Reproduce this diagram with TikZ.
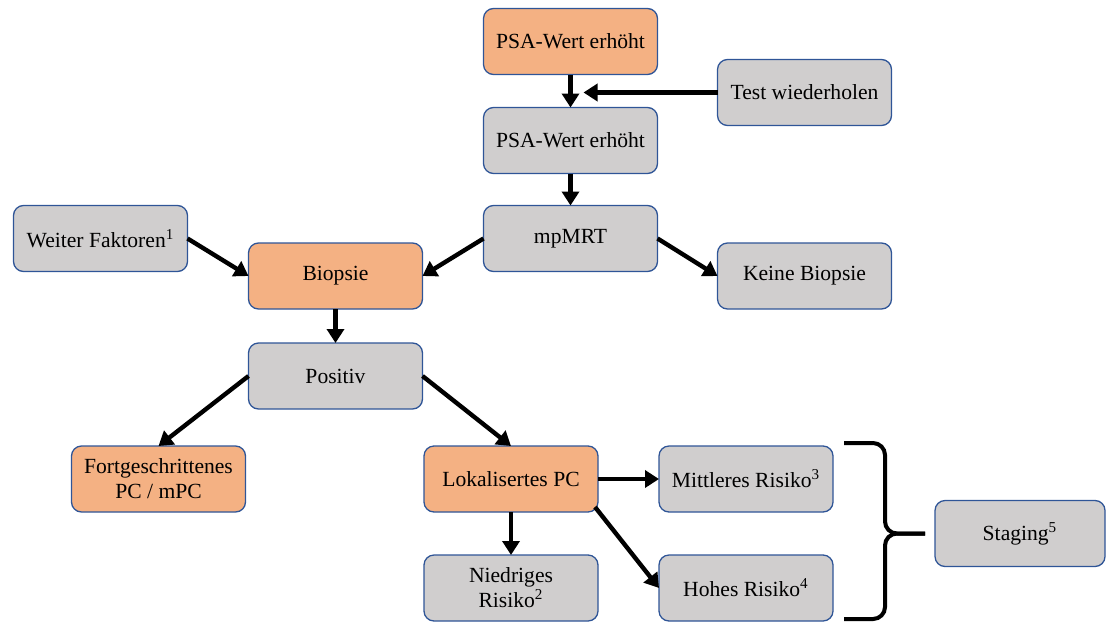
\documentclass[tikz,border=0pt]{standalone}
\usepackage{fontspec}
\setmainfont{Liberation Serif}
\usepackage{xcolor}
\usetikzlibrary{positioning,arrows.meta,calc}

\definecolor{boxgray}{HTML}{D0CECE}
\definecolor{boxorange}{HTML}{F4B183}
\definecolor{boxline}{RGB}{47,85,151}

\begin{document}
\begin{tikzpicture}[
  every node/.style = {font=\fontsize{10.8}{12.5}\selectfont},
  box/.style   = {draw=boxline, rounded corners=5pt, align=center,
                  inner sep=2pt, outer sep=0pt, minimum width=87pt,
                  minimum height=33pt, line width=0.65pt},
  gbox/.style  = {box, fill=boxgray},
  obox/.style  = {box, fill=boxorange},
  ar/.style    = {-{Triangle[length=7pt,width=8.5pt]}, line width=2.2pt, black},
  brace/.style = {line width=2pt, rounded corners=6pt, line cap=butt}
]

\useasboundingbox (0,0) rectangle (553pt,-310.5pt);

\node[obox] (psa) at (285.25pt,-20.75pt) {PSA-Wert erhöht};
\node[gbox, below=16.5pt of psa]                    (psab)    {PSA-Wert erhöht};
\node[gbox, right=30pt of psab, yshift=24pt]        (test)    {Test wiederholen};
\node[gbox, below=16pt of psab]                     (mrt)     {mpMRT};
\node[obox, left=30.5pt of mrt, yshift=-18.75pt]    (biopsie) {Biopsie};
\node[gbox, right=30pt of mrt, yshift=-18.75pt]     (keine)   {Keine Biopsie};
\node[gbox, left=30.5pt of biopsie, yshift=18.75pt] (weiter)  {Weiter Faktoren\textsuperscript{1}};
\node[gbox, below=17pt of biopsie]                  (positiv) {Positiv};

\node[obox, below=18.5pt of positiv, xshift=-88.5pt] (fort)  {Fortgeschrittenes\\PC / mPC};
\node[obox, below=18.5pt of positiv, xshift=87.75pt] (lokal) {Lokalisertes PC};
\node[gbox, right=30.5pt of lokal]  (mittel)  {Mittleres Risiko\textsuperscript{3}};
\node[gbox, below=21.5pt of lokal]  (niedrig) {Niedriges\\Risiko\textsuperscript{2}};
\node[gbox, below=21.5pt of mittel] (hohes)   {Hohes Risiko\textsuperscript{4}};
\node[gbox, minimum width=85pt, minimum height=33pt,
      right=51pt of $(mittel.east)!0.5!(hohes.east)$] (staging) {Staging\textsuperscript{5}};

% connectors
\coordinate (join) at ($(psa.south)!0.5!(psab.north)$);
\draw[ar] (psa) -- (psab);
\draw[ar] (test.west) -- ($(join |- test.west)+(6.5pt,0)$);
\draw[ar] (psab) -- (mrt);
\draw[ar] (mrt.west) -- (biopsie.east);
\draw[ar] (weiter.east) -- (biopsie.west);
\draw[ar] (mrt.east) -- (keine.west);
\draw[ar] (biopsie) -- (positiv);
\draw[ar] (positiv.west) -- (fort.north);
\draw[ar] (positiv.east) -- (lokal.north);
\draw[ar] (lokal) -- (mittel);
\draw[ar] (lokal) -- (niedrig);
\draw[ar] ([xshift=-1.5pt,yshift=2.5pt]lokal.south east) -- (hohes.west);

% brace to staging
\coordinate (btop) at ($(mittel.north east)+(5.5pt,1.5pt)$);
\coordinate (bbot) at ($(hohes.south east)+(5.5pt,1pt)$);
\coordinate (btip) at ($(staging.west)+(-5pt,0)$);
\draw[brace] (btop) -- ++(20.5pt,0) |- (btip);
\draw[brace] (btip) -| ($(bbot)+(20.5pt,0)$) -- (bbot);

\end{tikzpicture}
\end{document}
